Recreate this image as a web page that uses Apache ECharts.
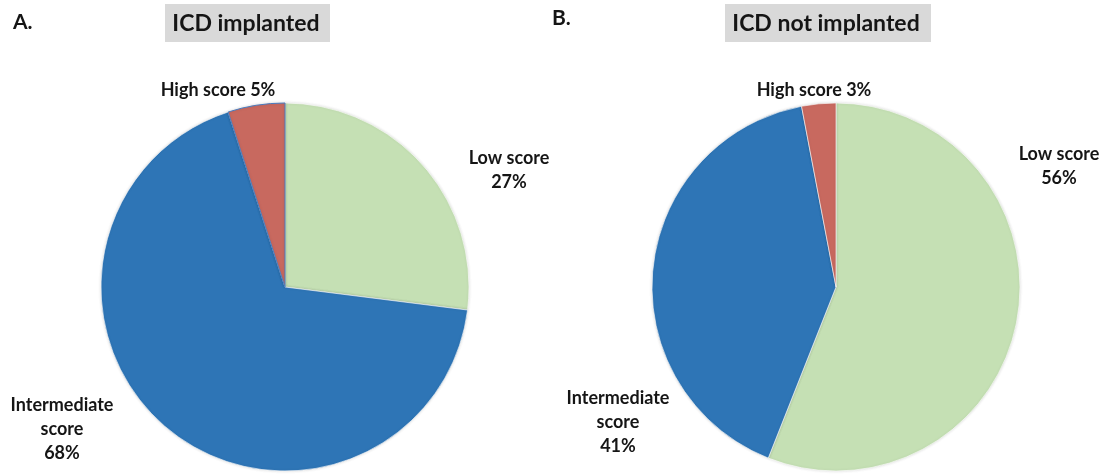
<!DOCTYPE html>
<html>
<head>
<meta charset="utf-8">
<script src="https://cdn.jsdelivr.net/npm/echarts@6/dist/echarts.min.js"></script>
<style>
  html, body { margin: 0; padding: 0; background: #fff; }
  #chart { width: 1103px; height: 474px; }
</style>
</head>
<body>
<div id="chart"></div>
<script>
// Risk score groups, listed clockwise from 12 o'clock
const categories = ['Low score', 'Intermediate score', 'High score'];
const implantedValues = [27, 68, 5];
const notImplantedValues = [56, 41, 3];
const panelLetters = ['A.', 'B.'];
const panelTitles = ['ICD implanted', 'ICD not implanted'];

// Slice label texts (line breaks as drawn)
const implantedLabels = ['Low score\n27%', 'Intermediate\nscore\n68%', 'High score 5%'];
const notImplantedLabels = ['Low score\n56%', 'Intermediate\nscore\n41%', 'High score 3%'];

const colors = ['#C5E0B4', '#2E75B6', '#C8695F'];
const FONT = 'Lato, "Open Sans", sans-serif';
const TEXT = '#151515';

// Label anchor points (page pixels) for each pie
const labelSpots = [
  [[509, 170], [62, 429], [218, 90]],
  [[1059, 166], [618, 422], [814, 90]]
];

function pieSeries(values, labels, center, spots, highBorder) {
  return {
    type: 'pie',
    center: center,
    radius: 184,
    startAngle: 90,
    clockwise: true,
    silent: true,
    animation: false,
    data: categories.map((name, i) => ({
      name: name,
      value: values[i],
      itemStyle: {
        color: colors[i],
        borderColor: (i === 2 && highBorder) ? '#4A7CC0' : 'rgba(255,255,255,0.6)',
        borderWidth: 1
      },
      label: { formatter: labels[i] }
    })),
    label: {
      show: true,
      position: 'outside',
      fontFamily: FONT,
      fontWeight: 'bold',
      fontSize: 18,
      lineHeight: 24,
      color: TEXT,
      align: 'center',
      overflow: 'none'
    },
    labelLine: { show: false },
    labelLayout: function (p) {
      const s = spots[p.dataIndex];
      return { x: s[0], y: s[1], align: 'center', verticalAlign: 'middle' };
    },
    itemStyle: {
      shadowBlur: 3,
      shadowColor: 'rgba(0,0,0,0.15)'
    }
  };
}

const chart = echarts.init(document.getElementById('chart'), null, { renderer: 'canvas' });

chart.setOption({
  backgroundColor: '#fff',
  graphic: [
    { type: 'text', left: 13, top: 12, style: { text: panelLetters[0], font: 'bold 21px ' + FONT, fill: TEXT } },
    { type: 'text', left: 552, top: 8, style: { text: panelLetters[1], font: 'bold 21px ' + FONT, fill: TEXT } },
    { type: 'rect', shape: { x: 165, y: 4, width: 165, height: 38 }, style: { fill: '#D9D9D9' } },
    { type: 'text', x: 246, y: 24, style: { text: panelTitles[0], font: 'bold 23px ' + FONT, fill: TEXT, align: 'center', verticalAlign: 'middle' } },
    { type: 'rect', shape: { x: 725, y: 4, width: 206, height: 38 }, style: { fill: '#D9D9D9' } },
    { type: 'text', x: 826, y: 24, style: { text: panelTitles[1], font: 'bold 23px ' + FONT, fill: TEXT, align: 'center', verticalAlign: 'middle' } }
  ],
  series: [
    pieSeries(implantedValues, implantedLabels, [285, 287], labelSpots[0], true),
    pieSeries(notImplantedValues, notImplantedLabels, [836, 287], labelSpots[1], false)
  ]
});
</script>
</body>
</html>
